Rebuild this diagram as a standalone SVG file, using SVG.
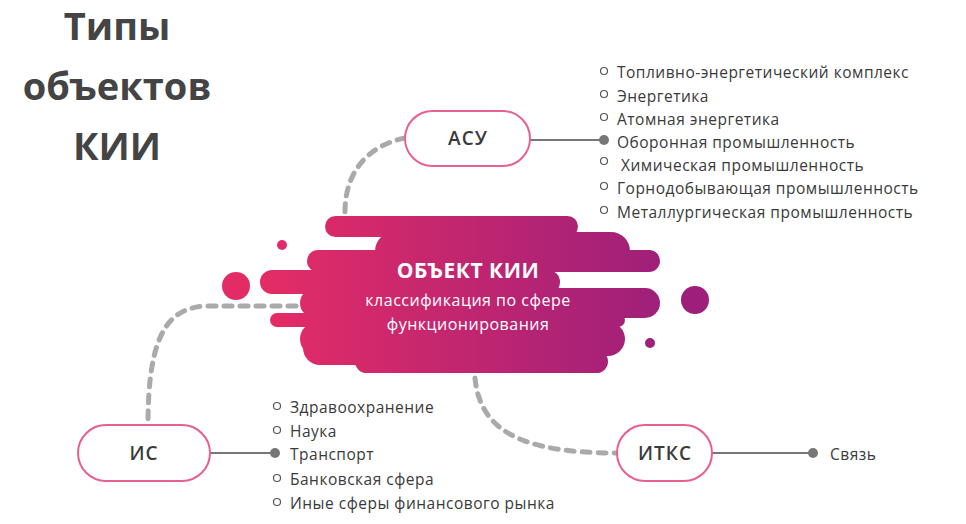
<svg xmlns="http://www.w3.org/2000/svg" width="966" height="524" viewBox="0 0 966 524">
<style>
.t{font-family:"Open Sans","Liberation Sans",sans-serif;fill:#3a3a3a}
.li{font-size:15.5px;letter-spacing:.5px}
.node{fill:#fff;stroke:#e8608c;stroke-width:2}
.nt{font-size:19px;font-weight:600;letter-spacing:1px;text-anchor:middle}
.dash{fill:none;stroke:#aaa;stroke-width:5;stroke-dasharray:8 8;stroke-linecap:round}
.sol{stroke:#777;stroke-width:2}
.b{fill:#fff;stroke:#555;stroke-width:1.2}
.d{fill:#777}
</style>
<defs><linearGradient id="g" gradientUnits="userSpaceOnUse" x1="270" y1="0" x2="680" y2="0"><stop offset="0" stop-color="#e32c66"/><stop offset="1" stop-color="#9b1f7b"/></linearGradient></defs>
<rect width="966" height="524" fill="#fff"/>
<g id="title" class="t" style="font-weight:700;font-size:38px;fill:#444" text-anchor="middle"><text x="117" y="40">Типы</text><text x="117" y="100">объектов</text><text x="117" y="160">КИИ</text></g>
<g id="connectors">
<path class="dash" d="M405,138 C370,145 345,170 345,212"/>
<path class="dash" d="M328,306 H210 C170,306 148,330 148,425"/>
<path class="dash" d="M475,378 C480,430 520,453 617,453"/>
<line class="sol" x1="530" y1="140" x2="604" y2="140"/><circle class="d" cx="604" cy="140" r="5"/>
<line class="sol" x1="210" y1="453" x2="275" y2="453"/><circle class="d" cx="275" cy="453" r="5"/>
<line class="sol" x1="712" y1="453" x2="813" y2="453"/><circle class="d" cx="813" cy="453" r="5"/>
</g>
<g id="center" fill="url(#g)">
<rect x="325" y="216" width="253" height="21" rx="10.5"/>
<rect x="375" y="232" width="255" height="38" rx="19"/>
<rect x="307" y="250" width="353" height="22" rx="11"/>
<rect x="260" y="270" width="300" height="24" rx="12"/>
<rect x="300" y="288" width="360" height="30" rx="15"/>
<rect x="270" y="313" width="355" height="14" rx="7"/>
<rect x="300" y="322" width="325" height="34" rx="17"/>
<rect x="303" y="330" width="255" height="35" rx="17"/>
<rect x="355" y="350" width="253" height="23" rx="11.5"/>
<circle cx="282" cy="245" r="5"/><circle cx="236" cy="286" r="14"/><circle cx="695" cy="300" r="14"/><circle cx="650" cy="343" r="5"/>
<text x="468" y="278" text-anchor="middle" style="font-family:'Open Sans','Liberation Sans',sans-serif;font-weight:700;font-size:21px;fill:#fff;letter-spacing:.5px">ОБЪЕКТ КИИ</text>
<text x="468" y="306" text-anchor="middle" style="font-family:'Open Sans','Liberation Sans',sans-serif;font-size:16px;fill:#fff;letter-spacing:.5px">классификация по сфере</text>
<text x="468" y="330" text-anchor="middle" style="font-family:'Open Sans','Liberation Sans',sans-serif;font-size:16px;fill:#fff;letter-spacing:.5px">функционирования</text>
</g>
<g id="asu"><rect class="node" x="405" y="111" width="125" height="55" rx="27.5"/><text class="t nt" x="468" y="145">АСУ</text></g>
<g id="is"><rect class="node" x="78" y="425" width="132" height="56" rx="28"/><text class="t nt" x="144" y="460">ИС</text></g>
<g id="itks"><rect class="node" x="617" y="425" width="95" height="56" rx="28"/><text class="t nt" x="665" y="460">ИТКС</text></g>
<g id="asu-list" class="t li">
<circle class="b" cx="604" cy="71" r="3.5"/><text x="617" y="78">Топливно-энергетический комплекс</text>
<circle class="b" cx="604" cy="94" r="3.5"/><text x="617" y="102">Энергетика</text>
<circle class="b" cx="604" cy="117" r="3.5"/><text x="617" y="125">Атомная энергетика</text>
<text x="617" y="148">Оборонная промышленность</text>
<circle class="b" cx="604" cy="161" r="3.5"/><text x="621" y="171">Химическая промышленность</text>
<circle class="b" cx="604" cy="186" r="3.5"/><text x="617" y="194">Горнодобывающая промышленность</text>
<circle class="b" cx="604" cy="210" r="3.5"/><text x="617" y="218">Металлургическая промышленность</text>
</g>
<g id="is-list" class="t li">
<circle class="b" cx="277" cy="406" r="3.5"/><text x="290" y="413">Здравоохранение</text>
<circle class="b" cx="277" cy="430" r="3.5"/><text x="290" y="437">Наука</text>
<text x="290" y="460">Транспорт</text>
<circle class="b" cx="277" cy="478" r="3.5"/><text x="290" y="485">Банковская сфера</text>
<circle class="b" cx="277" cy="502" r="3.5"/><text x="290" y="509">Иные сферы финансового рынка</text>
</g>
<g id="itks-list" class="t li"><text x="830" y="460">Связь</text></g>
</svg>
